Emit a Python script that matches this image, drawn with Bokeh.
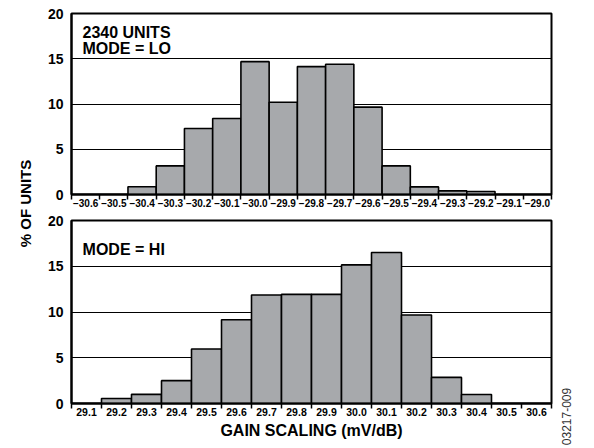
from bokeh.plotting import figure
from bokeh.layouts import row, column
from bokeh.models import FixedTicker, Label, Range1d
from bokeh.embed import file_html
from bokeh.resources import INLINE

# ---- data ----
lo_bins = ["\u221230.6", "\u221230.5", "\u221230.4", "\u221230.3", "\u221230.2", "\u221230.1",
           "\u221230.0", "\u221229.9", "\u221229.8", "\u221229.7", "\u221229.6", "\u221229.5",
           "\u221229.4", "\u221229.3", "\u221229.2", "\u221229.1", "\u221229.0"]
lo_pct = [0, 0, 0.85, 3.16, 7.3, 8.4, 14.68, 10.2, 14.13, 14.39, 9.65, 3.16, 0.84, 0.4, 0.33, 0, 0]

hi_bins = ["29.1", "29.2", "29.3", "29.4", "29.5", "29.6", "29.7", "29.8",
           "29.9", "30.0", "30.1", "30.2", "30.3", "30.4", "30.5", "30.6"]
hi_pct = [0, 0.55, 1.0, 2.5, 5.95, 9.16, 11.86, 11.93, 11.93, 15.15, 16.5, 9.67, 2.85, 0.99, 0, 0]

y_ticks = [0, 5, 10, 15, 20]
grid_levels = [5, 10, 15]

FONT = "Liberation Sans"
BAR_FILL = "#a7a9ac"
H = 446


def make_hist(labels, vals, frame_h, top_b, bot_b, tick_fs):
    n = len(labels)
    p = figure(frame_width=480, frame_height=frame_h,
               x_range=Range1d(-0.5, n - 0.5), y_range=Range1d(0, 20),
               min_border_left=37, min_border_right=8,
               min_border_top=top_b, min_border_bottom=bot_b,
               toolbar_location=None, output_backend="svg")
    p.vbar(x=list(range(n)), top=vals, width=1.0, fill_color=BAR_FILL,
           line_color="black", line_width=1.6)
    p.outline_line_color = "black"
    p.outline_line_width = 2
    p.xgrid.visible = False
    p.ygrid.ticker = FixedTicker(ticks=grid_levels)
    p.ygrid.grid_line_color = "black"
    p.ygrid.grid_line_width = 1

    xa = p.xaxis[0]
    xa.ticker = FixedTicker(ticks=list(range(n)),
                            minor_ticks=[i - 0.5 for i in range(n + 1)])
    xa.major_label_overrides = {i: lab for i, lab in enumerate(labels)}
    xa.major_tick_out = 0
    xa.major_tick_in = 0
    xa.minor_tick_out = 5
    xa.minor_tick_in = 0
    xa.minor_tick_line_color = "black"
    xa.minor_tick_line_width = 1.5
    xa.axis_line_color = "black"
    xa.axis_line_width = 2
    xa.major_label_standoff = -1
    xa.major_label_text_font = FONT
    xa.major_label_text_font_style = "bold"
    xa.major_label_text_font_size = tick_fs
    xa.major_label_text_color = "black"

    ya = p.yaxis[0]
    ya.ticker = FixedTicker(ticks=y_ticks)
    ya.major_tick_out = 0
    ya.major_tick_in = 0
    ya.minor_tick_out = 0
    ya.minor_tick_in = 0
    ya.axis_line_color = "black"
    ya.axis_line_width = 2
    ya.major_label_standoff = 8
    ya.major_label_text_font = FONT
    ya.major_label_text_font_style = "bold"
    ya.major_label_text_font_size = "14px"
    ya.major_label_text_color = "black"
    return p


p1 = make_hist(lo_bins, lo_pct, 181, 13, 14, "10px")
p2 = make_hist(hi_bins, hi_pct, 183, 11, 40, "10.5px")

for txt, y in [("2340 UNITS", 17.9), ("MODE = LO", 16.13)]:
    p1.add_layout(Label(x=-0.11, y=y, text=txt, text_font=FONT, text_font_style="bold",
                        text_font_size="16px", text_color="black",
                        text_baseline="alphabetic", text_align="left"))

p2.add_layout(Label(x=-0.13, y=16.83, text="MODE = HI", text_font=FONT,
                    text_font_style="bold", text_font_size="16px", text_color="black",
                    text_baseline="alphabetic", text_align="left"))

p2.xaxis[0].axis_label = "GAIN SCALING (mV/dB)"
p2.xaxis[0].axis_label_text_font = FONT
p2.xaxis[0].axis_label_text_font_style = "bold"
p2.xaxis[0].axis_label_text_font_size = "16px"
p2.xaxis[0].axis_label_text_color = "black"
p2.xaxis[0].axis_label_standoff = 3


def side_fig(w):
    f = figure(width=w, height=H, x_range=Range1d(0, w), y_range=Range1d(0, H),
               min_border=0, x_axis_type=None, y_axis_type=None,
               toolbar_location=None, output_backend="svg")
    f.outline_line_color = None
    f.xgrid.visible = False
    f.ygrid.visible = False
    return f


lab = side_fig(34)
lab.add_layout(Label(x=25, y=H - 203, text="% OF UNITS", angle=1.5708,
                     text_font=FONT, text_font_style="bold", text_font_size="15px",
                     text_color="black", text_align="center", text_baseline="middle"))

code = side_fig(30)
code.add_layout(Label(x=7, y=H - 416, text="03217-009", angle=1.5708,
                      text_font=FONT, text_font_size="12px", text_color="#333333",
                      text_align="center", text_baseline="middle"))

layout = row(lab, column(p1, p2), code)

open("out.html", "w").write(file_html(layout, INLINE))
